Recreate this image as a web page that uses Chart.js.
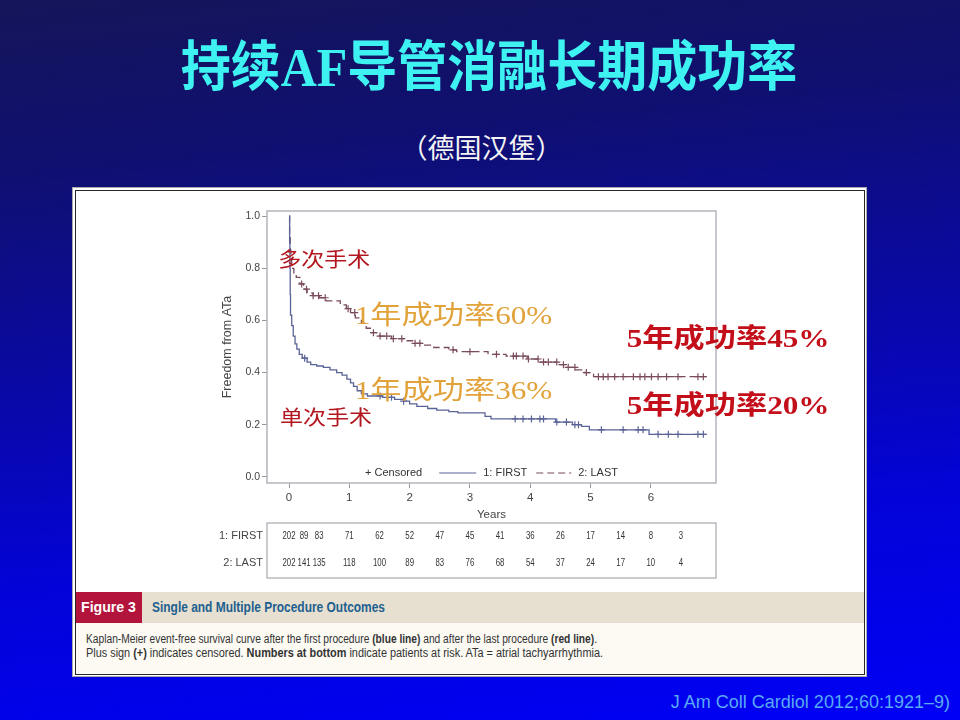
<!DOCTYPE html>
<html>
<head>
<meta charset="utf-8">
<script src="https://cdn.jsdelivr.net/npm/chart.js@4.4.0/dist/chart.umd.min.js"></script>
<style>
html, body { margin: 0; padding: 0; }
body {
  width: 960px; height: 720px; overflow: hidden; position: relative;
  background: linear-gradient(174deg, #15155a 0%, #0f0f72 22%, #0909a6 48%, #0303d8 72%, #0000f6 100%);
  font-family: 'Liberation Sans', Arial, sans-serif;
}
#title {
  position: absolute; left: 0; width: 978px; top: 38px; text-align: center;
  font: bold 50px 'Liberation Serif', 'Noto Sans CJK SC', serif; line-height: 60px;
  color: #3ef2f2; transform: scaleY(1.08);
}
#subtitle {
  position: absolute; left: 0; width: 963px; top: 130px; text-align: center;
  font: 27px 'Noto Sans CJK SC', sans-serif; line-height: 34px; color: #f4f4f4;
}
#panel {
  position: absolute; left: 72px; top: 187px; width: 793px; height: 488px;
  background: #fff; border: 1px solid #a8a8a8;
}
#inner {
  position: absolute; left: 2px; top: 2px; right: 1px; bottom: 1px;
  border: 1.5px solid #262626;
}
#km { position: absolute; left: 76px; top: 190px; }
#figbar {
  position: absolute; left: 76px; top: 592px; width: 788px; height: 31px;
  background: #e7dfcf;
}
#figtag {
  position: absolute; left: 0; top: 0; width: 66px; height: 31px; background: #b3143c;
}
.fit { position: absolute; white-space: nowrap; transform-origin: 0 50%; }
#figtagtxt { left: 5px; top: 0; line-height: 31px; color: #fff; font-weight: bold; font-size: 14px; }
#figname { left: 76px; top: 0; line-height: 31px; color: #1d5f8f; font-weight: bold; font-size: 14.5px; }
#caption {
  position: absolute; left: 76px; top: 623px; width: 788px; height: 50px; background: #fcfaf3;
  font-size: 12px; color: #333; line-height: 14px;
}
#cite {
  position: absolute; right: 10px; top: 690px; font-size: 18px; line-height: 24px;
  color: #58aaf4;
}
</style>
</head>
<body>
<div id="title">持续AF导管消融长期成功率</div>
<div id="subtitle">（德国汉堡）</div>
<div id="panel"><div id="inner"></div></div>
<canvas id="km" width="788" height="400"></canvas>
<div id="figbar">
  <div id="figtag"><div id="figtagtxt" class="fit" data-w="55">Figure 3</div></div>
  <div id="figname" class="fit" data-w="233">Single and Multiple Procedure Outcomes</div>
</div>
<div id="caption">
  <div class="fit" data-w="511" style="left:10px;top:9px">Kaplan-Meier event-free survival curve after the first procedure <b>(blue line)</b> and after the last procedure <b>(red line)</b>.</div>
  <div class="fit" data-w="517" style="left:10px;top:23px">Plus sign <b>(+)</b> indicates censored. <b>Numbers at bottom</b> indicate patients at risk. ATa = atrial tachyarrhythmia.</div>
</div>
<div id="cite">J Am Coll Cardiol 2012;60:1921–9)</div>

<script>
// Kaplan-Meier steps (years, freedom from ATa)
const firstTimes = [0, 0.01, 0.015, 0.02, 0.025, 0.045, 0.07, 0.1, 0.13, 0.17, 0.22, 0.3, 0.36, 0.46, 0.57, 0.68, 0.79, 0.88, 0.96, 1.02, 1.07, 1.13, 1.2, 1.3, 1.55, 1.75, 1.9, 2.0, 2.12, 2.3, 2.45, 2.65, 2.8, 3.25, 3.35, 4.42, 4.7, 4.85, 4.98, 5.97, 6.92];
const firstSurv  = [1.0, 0.90, 0.80, 0.70, 0.62, 0.58, 0.54, 0.51, 0.49, 0.47, 0.455, 0.44, 0.43, 0.425, 0.42, 0.41, 0.40, 0.39, 0.375, 0.36, 0.347, 0.33, 0.318, 0.31, 0.305, 0.297, 0.29, 0.28, 0.27, 0.262, 0.256, 0.25, 0.245, 0.232, 0.222, 0.21, 0.20, 0.193, 0.18, 0.163, 0.163];
const lastTimes  = [0, 0.01, 0.02, 0.03, 0.045, 0.08, 0.12, 0.18, 0.24, 0.3, 0.4, 0.5, 0.62, 0.85, 0.95, 1.02, 1.1, 1.2, 1.28, 1.36, 1.5, 1.7, 1.9, 2.05, 2.2, 2.4, 2.65, 2.78, 3.3, 3.6, 3.95, 4.15, 4.45, 4.6, 4.75, 4.9, 5.05, 6.92];
const lastSurv   = [1.0, 0.93, 0.87, 0.83, 0.80, 0.78, 0.765, 0.74, 0.72, 0.705, 0.695, 0.687, 0.675, 0.66, 0.645, 0.63, 0.61, 0.59, 0.57, 0.553, 0.54, 0.53, 0.522, 0.512, 0.505, 0.496, 0.487, 0.48, 0.47, 0.463, 0.452, 0.44, 0.43, 0.42, 0.41, 0.40, 0.384, 0.384];

// censoring times (+ marks)
const firstCensor = [0.26, 1.51, 1.7, 1.9, 3.75, 3.88, 4.02, 4.16, 4.22, 4.44, 4.6, 4.74, 4.8, 5.18, 5.54, 5.79, 5.87, 6.12, 6.29, 6.45, 6.78, 6.87];
const lastCensor  = [0.21, 0.29, 0.4, 0.49, 0.6, 0.98, 1.09, 1.4, 1.51, 1.62, 1.73, 1.87, 2.09, 2.17, 2.72, 3.0, 3.44, 3.72, 3.77, 3.88, 3.97, 4.13, 4.22, 4.3, 4.44, 4.55, 4.63, 4.74, 4.93, 5.13, 5.21, 5.29, 5.4, 5.54, 5.71, 5.82, 5.9, 6.01, 6.12, 6.26, 6.45, 6.78, 6.87];

// numbers at risk
const riskTimes = [0, 0.25, 0.5, 1, 1.5, 2, 2.5, 3, 3.5, 4, 4.5, 5, 5.5, 6, 6.5];
const riskFirst = [202, 89, 83, 71, 62, 52, 47, 45, 41, 36, 26, 17, 14, 8, 3];
const riskLast  = [202, 141, 135, 118, 100, 89, 83, 76, 68, 54, 37, 24, 17, 10, 4];

const xTicks = [0, 1, 2, 3, 4, 5, 6];
const yTicks = [0, 0.2, 0.4, 0.6, 0.8, 1.0];

// callouts: text, x (years), y (freedom)
const notes = [
  { text: '多次手术', x: -0.18, y: 0.827, kind: 'proc' },
  { text: '单次手术', x: -0.15, y: 0.219, kind: 'proc' },
  { text: '1年成功率60%', x: 1.09, y: 0.612, kind: 'one' },
  { text: '1年成功率36%', x: 1.09, y: 0.323, kind: 'one' },
  { text: '5年成功率45%', x: 5.60, y: 0.523, kind: 'five' },
  { text: '5年成功率20%', x: 5.60, y: 0.265, kind: 'five' }
];
const noteStyle = {
  proc: { font: "20px 'Liberation Serif', 'Noto Sans CJK SC'", color: '#b3161e', sx: 1.15 },
  one:  { font: "26px 'Liberation Serif', 'Noto Sans CJK SC'", color: '#e2a23a', sx: 1.2 },
  five: { font: "bold 26px 'Liberation Serif', 'Noto Sans CJK SC'", color: '#c30f1a', sx: 1.2 }
};

const blue = '#5a6396';
const maroon = '#7a4b5d';

function survAt(times, surv, t) {
  let v = surv[0];
  for (let i = 0; i < times.length; i++) { if (times[i] <= t) v = surv[i]; }
  return v;
}
const pts = (ts, ss) => ts.map((t, i) => ({ x: t, y: ss[i] }));

const kmDecor = {
  id: 'kmDecor',
  afterDraw(chart) {
    const ctx = chart.ctx, a = chart.chartArea, xs = chart.scales.x, ys = chart.scales.y;
    ctx.save();
    // plot frame
    ctx.strokeStyle = '#b4b4bc'; ctx.lineWidth = 1.5;
    ctx.strokeRect(a.left, a.top, a.right - a.left, a.bottom - a.top);

    // legend inside the plot
    ctx.font = "11px 'Liberation Sans', Arial";
    ctx.fillStyle = '#333'; ctx.textBaseline = 'middle';
    const ly = a.bottom - 10;
    const t1 = '+ Censored', t2 = '1: FIRST', t3 = '2: LAST';
    const w1 = ctx.measureText(t1).width, w2 = ctx.measureText(t2).width, w3 = ctx.measureText(t3).width;
    const total = w1 + 17 + 37 + 7 + w2 + 9 + 35 + 7 + w3;
    let lx = (a.left + a.right) / 2 - total / 2;
    ctx.fillText(t1, lx, ly); lx += w1 + 17;
    ctx.strokeStyle = blue; ctx.lineWidth = 1.2;
    ctx.beginPath(); ctx.moveTo(lx, ly); ctx.lineTo(lx + 37, ly); ctx.stroke(); lx += 44;
    ctx.fillText(t2, lx, ly); lx += w2 + 9;
    ctx.strokeStyle = maroon; ctx.setLineDash([7, 4]);
    ctx.beginPath(); ctx.moveTo(lx, ly); ctx.lineTo(lx + 35, ly); ctx.stroke(); lx += 42;
    ctx.setLineDash([]);
    ctx.fillText(t3, lx, ly);

    // numbers-at-risk table
    const top = a.bottom + 40;
    ctx.strokeStyle = '#a8a8b0'; ctx.lineWidth = 1.2;
    ctx.strokeRect(a.left, top, a.right - a.left, 55);
    ctx.textAlign = 'right';
    ctx.fillStyle = '#444';
    ctx.fillText('1: FIRST', a.left - 4, top + 13);
    ctx.fillText('2: LAST', a.left - 4, top + 40);
    ctx.textAlign = 'center';
    ctx.font = "10px 'Liberation Sans', Arial";
    ctx.fillStyle = '#333';
    const narrow = (txt, px, py) => {
      ctx.save(); ctx.translate(px, py); ctx.scale(0.78, 1);
      ctx.fillText(txt, 0, 0); ctx.restore();
    };
    riskTimes.forEach((t, i) => {
      const px = xs.getPixelForValue(t);
      narrow(String(riskFirst[i]), px, top + 13);
      narrow(String(riskLast[i]), px, top + 40);
    });

    // callouts
    ctx.textAlign = 'left';
    notes.forEach(n => {
      const st = noteStyle[n.kind];
      ctx.save();
      ctx.translate(xs.getPixelForValue(n.x), ys.getPixelForValue(n.y));
      ctx.scale(st.sx, 1);
      ctx.font = st.font; ctx.fillStyle = st.color; ctx.textBaseline = 'middle';
      ctx.fillText(n.text, 0, 0);
      ctx.restore();
    });
    ctx.restore();
  }
};

Chart.defaults.font.family = "'Liberation Sans', Arial, sans-serif";

new Chart(document.getElementById('km'), {
  type: 'line',
  data: {
    datasets: [
      { label: '1: FIRST', data: pts(firstTimes, firstSurv), stepped: 'before',
        borderColor: blue, borderWidth: 1.3, pointRadius: 0, fill: false },
      { label: '2: LAST', data: pts(lastTimes, lastSurv), stepped: 'before',
        borderColor: maroon, borderWidth: 1.3, borderDash: [7, 4], pointRadius: 0, fill: false },
      { label: 'censored first', type: 'scatter',
        data: firstCensor.map(t => ({ x: t, y: survAt(firstTimes, firstSurv, t) })),
        pointStyle: 'cross', pointRadius: 3.5, borderColor: blue, borderWidth: 1.2 },
      { label: 'censored last', type: 'scatter',
        data: lastCensor.map(t => ({ x: t, y: survAt(lastTimes, lastSurv, t) })),
        pointStyle: 'cross', pointRadius: 3.5, borderColor: maroon, borderWidth: 1.2 }
    ]
  },
  options: {
    responsive: false,
    animation: false,
    events: [],
    layout: { padding: { left: 140, right: 148, top: 21, bottom: 57 } },
    scales: {
      x: {
        type: 'linear', min: -0.365, max: 7.08,
        afterBuildTicks: s => { s.ticks = xTicks.map(v => ({ value: v })); },
        afterFit: s => { s.height = 50; },
        grid: { drawOnChartArea: false, drawTicks: true, tickLength: 5, color: '#999' },
        border: { display: false },
        ticks: { color: '#444', font: { size: 11.5 }, padding: 3, callback: v => String(v) },
        title: { display: true, text: 'Years', color: '#444', font: { size: 11.5 }, padding: { bottom: 11 } }
      },
      y: {
        min: -0.024, max: 1.020,
        afterBuildTicks: s => { s.ticks = yTicks.map(v => ({ value: v })); },
        afterFit: s => { s.width = 51; },
        grid: { drawOnChartArea: false, drawTicks: true, tickLength: 5, color: '#999' },
        border: { display: false },
        ticks: { color: '#444', font: { size: 10.5 }, padding: 2, callback: v => v.toFixed(1) },
        title: { display: true, text: 'Freedom from ATa', color: '#444', font: { size: 12.5 }, padding: { top: 4 } }
      }
    },
    plugins: {
      legend: { display: false },
      tooltip: { enabled: false }
    }
  },
  plugins: [kmDecor]
});

// squeeze caption lines to the condensed width of the journal figure
document.querySelectorAll('.fit').forEach(el => {
  const w = el.getBoundingClientRect().width;
  el.style.transform = 'scaleX(' + (Number(el.dataset.w) / w) + ')';
});
</script>
</body>
</html>
